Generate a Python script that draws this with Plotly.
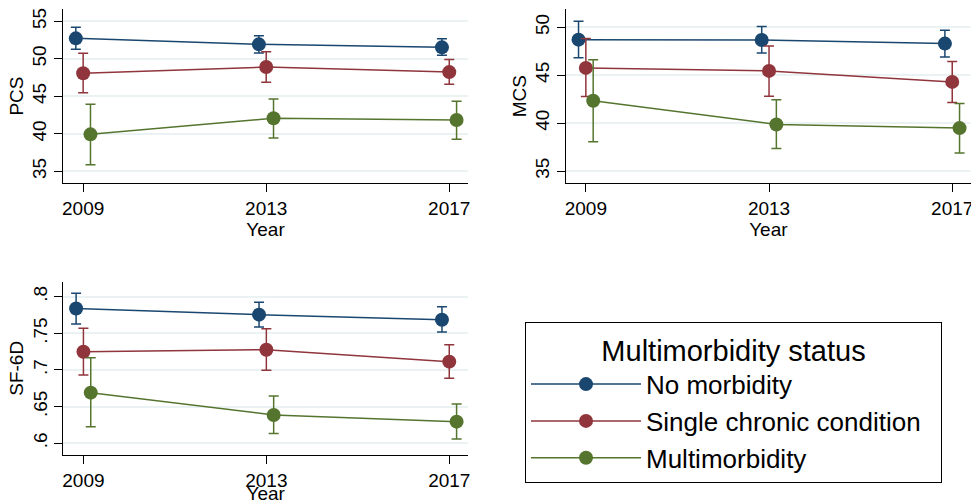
import plotly.graph_objects as go

years = [2009, 2013, 2017]
groups = ["No morbidity", "Single chronic condition\u00a0\u00a0", "Multimorbidity"]

# PCS
pcs_mean = [[52.73, 51.93, 51.53], [48.07, 48.90, 48.23], [39.93, 42.07, 41.84]]
pcs_hi = [[54.20, 53.08, 52.68], [50.73, 50.95, 49.90], [43.93, 44.64, 44.33]]
pcs_lo = [[51.27, 50.77, 50.47], [45.48, 46.87, 46.60], [35.88, 39.44, 39.27]]

# MCS
mcs_mean = [[48.71, 48.68, 48.30], [45.76, 45.45, 44.30], [42.33, 39.86, 39.48]]
mcs_hi = [[50.63, 50.07, 49.69], [48.82, 48.06, 46.42], [46.60, 42.43, 42.05]]
mcs_lo = [[46.83, 47.32, 46.90], [42.77, 42.80, 42.15], [38.06, 37.36, 36.89]]

# SF-6D
sf_mean = [[0.784, 0.7755, 0.7686], [0.725, 0.7277, 0.7114], [0.6691, 0.6386, 0.6295]]
sf_hi = [[0.8046, 0.7923, 0.7864], [0.7569, 0.7564, 0.7346], [0.7168, 0.6646, 0.6536]]
sf_lo = [[0.7627, 0.7587, 0.7518], [0.6932, 0.6995, 0.6887], [0.6227, 0.6132, 0.6060]]

pcs_ticks = [35, 40, 45, 50, 55]
mcs_ticks = [35, 40, 45, 50]
sf_ticks = [0.6, 0.65, 0.7, 0.75, 0.8]
sf_ticktext = [".6", ".65", ".7", ".75", ".8"]

colors = ["#1a476f", "#90353b", "#55752f"]
dodge = [-0.16, 0.0, 0.16]
FONT = "Liberation Sans, Arial, sans-serif"

fig = go.Figure()

panels = [
    (pcs_mean, pcs_hi, pcs_lo, "x", "y", True),
    (mcs_mean, mcs_hi, mcs_lo, "x2", "y2", False),
    (sf_mean, sf_hi, sf_lo, "x3", "y3", False),
]
for mean, hi, lo, xa, ya, show in panels:
    for g in range(3):
        xs = [yr + dodge[g] for yr in years]
        fig.add_trace(go.Scatter(
            x=xs, y=mean[g], xaxis=xa, yaxis=ya,
            mode="lines+markers",
            name=groups[g], showlegend=show,
            line=dict(color=colors[g], width=1.5),
            marker=dict(color=colors[g], size=14),
            error_y=dict(type="data", symmetric=False,
                         array=[h - m for h, m in zip(hi[g], mean[g])],
                         arrayminus=[m - l for m, l in zip(mean[g], lo[g])],
                         color=colors[g], thickness=1.5, width=5),
        ))

def xax(domain, standoff):
    return dict(domain=domain, range=[2008.56, 2017.41], tickvals=years,
                showline=True, linecolor="black", linewidth=1.2,
                ticks="outside", ticklen=8, tickcolor="black",
                showgrid=False, zeroline=False, automargin=False,
                ticklabeloverflow="allow",
                tickfont=dict(size=19, color="black"),
                title=dict(text="Year", font=dict(size=19, color="black"), standoff=standoff))

def yax(domain, rng, tickvals, ticktext, title, anchor):
    return dict(domain=domain, range=rng, tickvals=tickvals, ticktext=ticktext,
                showline=True, linecolor="black", linewidth=1.2,
                ticks="outside", ticklen=8, tickcolor="black",
                showgrid=True, gridcolor="#eaf2f3", gridwidth=2,
                zeroline=False, tickangle=-90, automargin=False,
                ticklabelstandoff=0,
                tickfont=dict(size=19, color="black"),
                title=dict(text=title, font=dict(size=19, color="black"), standoff=0),
                anchor=anchor)

fig.update_layout(
    width=971, height=504,
    margin=dict(l=0, r=0, t=0, b=0),
    paper_bgcolor="white", plot_bgcolor="white",
    font=dict(family=FONT, color="black"),
    xaxis=dict(**xax([0.0649, 0.482], 0), anchor="y"),
    yaxis=yax([0.6369, 0.9821], [33.44, 56.64], pcs_ticks, [str(t) for t in pcs_ticks], "PCS", "x"),
    xaxis2=dict(**xax([0.5826, 1.0], 0), anchor="y2"),
    yaxis2=yax([0.6369, 0.9815], [33.75, 51.875], mcs_ticks, [str(t) for t in mcs_ticks], "MCS", "x2"),
    xaxis3=dict(**xax([0.0652, 0.482], 0), anchor="y3"),
    yaxis3=yax([0.0972, 0.4411], [0.584, 0.8205], sf_ticks, sf_ticktext, "SF-6D", "x3"),
    legend=dict(
        x=525 / 971, y=1 - 322 / 504, xanchor="left", yanchor="top",
        bordercolor="black", borderwidth=1, bgcolor="white",
        font=dict(size=26, color="black", family=FONT),
        title=dict(text="Multimorbidity status", side="top center",
                   font=dict(size=29, color="black", family=FONT)),
        itemwidth=110, tracegroupgap=0,
    ),
)

fig.write_html("out.html", config={"displayModeBar": False},
               post_script="document.body.style.margin='0';")
